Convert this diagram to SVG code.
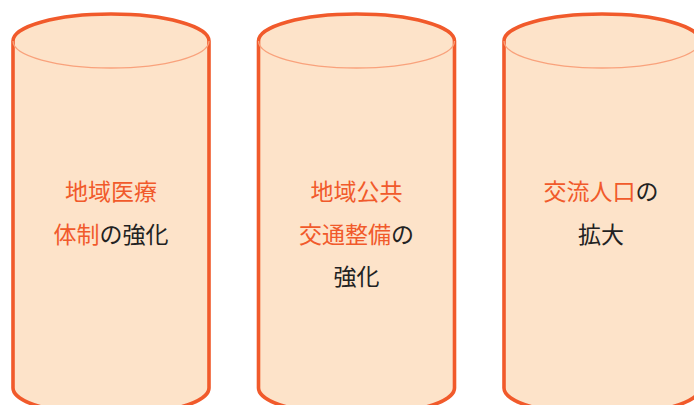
<svg xmlns="http://www.w3.org/2000/svg" width="694" height="405" viewBox="0 0 694 405">
<style>
.body{fill:#fde3c9;stroke:#f15a2b;stroke-width:3.6}
.lip{fill:none;stroke:#f9a27c;stroke-width:1.3}
text{font-family:"Noto Sans CJK JP","Noto Sans",sans-serif;font-size:23px;font-weight:400;text-anchor:middle}
.o{fill:#f15a2b}
.k{fill:#222}
</style>
<rect width="694" height="405" fill="#fff"/>
<g id="pillar1">
<path class="body" d="M13,41 A98,27 0 0 1 209,41 L209,388 A98,27 0 0 1 13,388 Z"/>
<path class="lip" d="M13,41 A98,27 0 0 0 209,41"/>
<text x="111" y="200"><tspan class="o">地域医療</tspan></text>
<text x="111" y="243"><tspan class="o">体制</tspan><tspan class="k">の強化</tspan></text>
</g>
<g id="pillar2">
<path class="body" d="M258.5,41 A98,27 0 0 1 454.5,41 L454.5,388 A98,27 0 0 1 258.5,388 Z"/>
<path class="lip" d="M258.5,41 A98,27 0 0 0 454.5,41"/>
<text x="356.5" y="200"><tspan class="o">地域公共</tspan></text>
<text x="356.5" y="243"><tspan class="o">交通整備</tspan><tspan class="k">の</tspan></text>
<text x="356.5" y="285" class="k">強化</text>
</g>
<g id="pillar3">
<path class="body" d="M504,41 A98,27 0 0 1 700,41 L700,388 A98,27 0 0 1 504,388 Z"/>
<path class="lip" d="M504,41 A98,27 0 0 0 700,41"/>
<text x="601" y="200"><tspan class="o">交流人口</tspan><tspan class="k">の</tspan></text>
<text x="601" y="243" class="k">拡大</text>
</g>
<g id="connectors"/>
</svg>
